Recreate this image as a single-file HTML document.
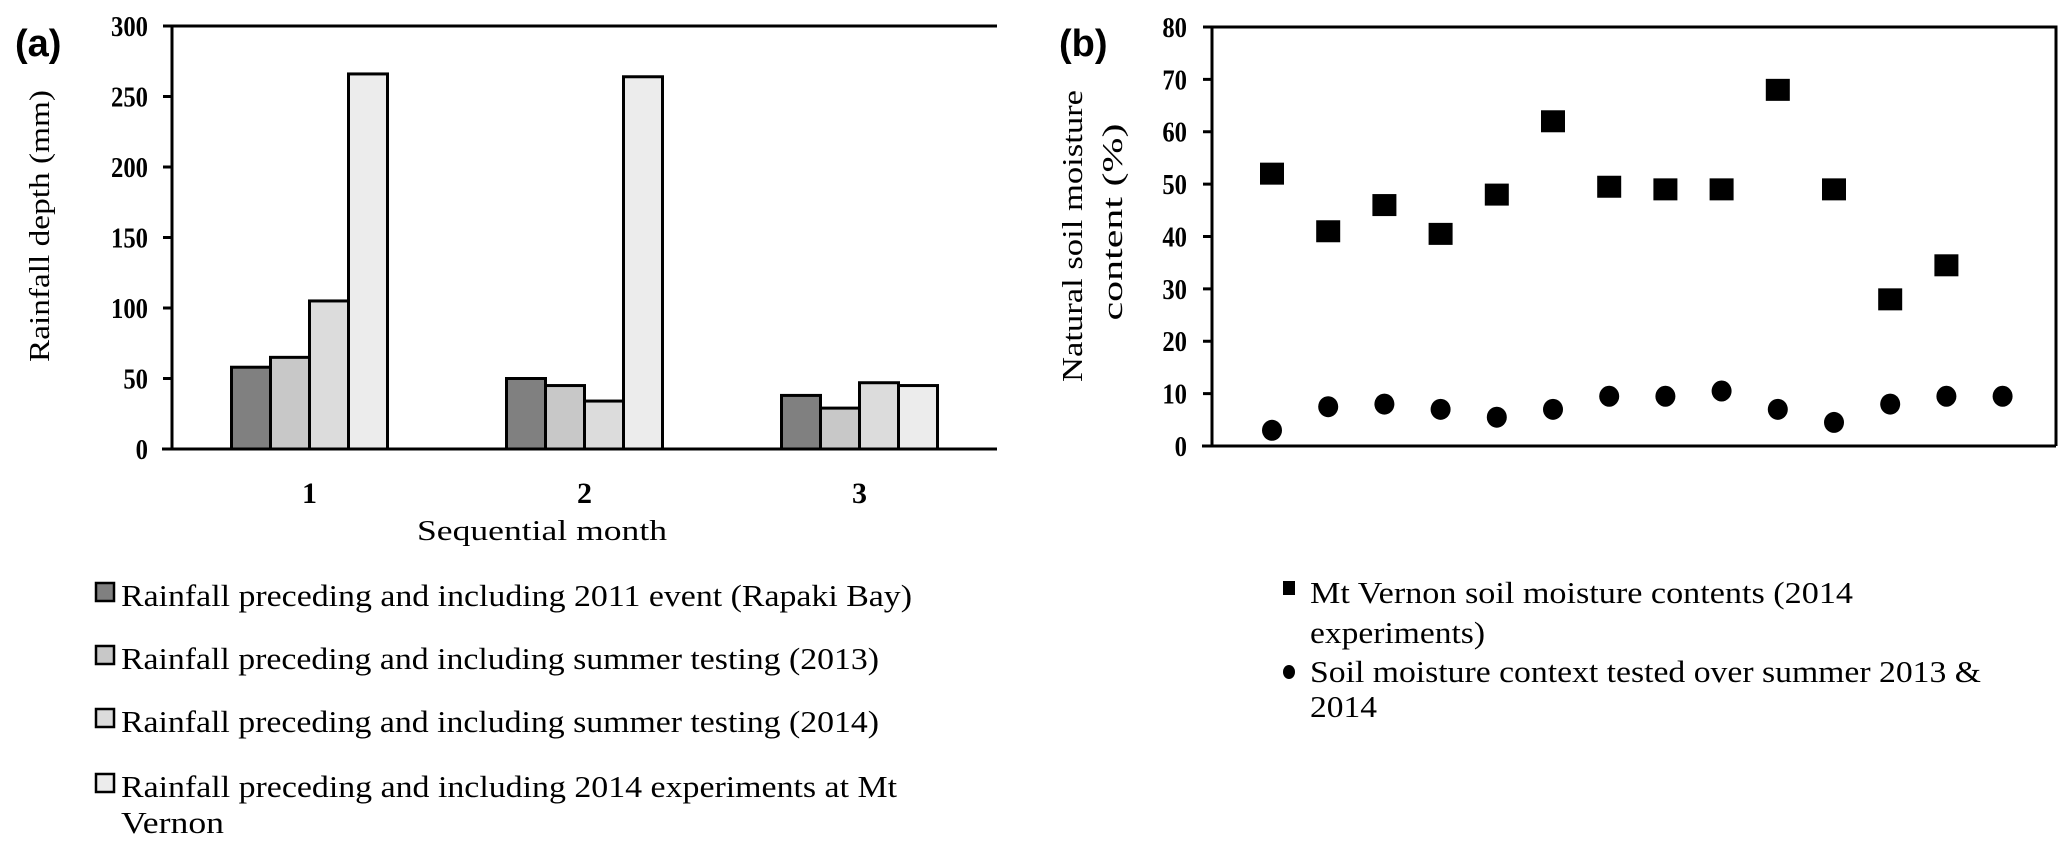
<!DOCTYPE html>
<html><head><meta charset="utf-8"><style>
html,body{margin:0;padding:0;background:#fff;}
svg{display:block;}
text{font-family:"Liberation Serif",serif;fill:#000;}
</style></head><body>
<svg id="fig" width="2067" height="859" viewBox="0 0 2067 859" xmlns="http://www.w3.org/2000/svg">
<g id="pa"></g>
<g id="pb"></g>
</svg>
<script>
// Panel (a) data
const months = ["1","2","3"];
const rain2011 = [58, 50, 38];
const rain2013 = [65, 45, 29];
const rain2014 = [105, 34, 47];
const rainMtVernon = [266, 264, 45];
const aTicks = [0,50,100,150,200,250,300];
// Panel (b) data
const sampleIdx = [1,2,3,4,5,6,7,8,9,10,11,12,13,14];
const mtVernonMoisture = [52,41,46,40.5,48,62,49.5,49,49,68,49,28,34.5];
const summerMoisture = [3,7.5,8,7,5.5,7,9.5,9.5,10.5,7,4.5,8,9.5,9.5];
const bTicks = [0,10,20,30,40,50,60,70,80];

const NS="http://www.w3.org/2000/svg";
function mk(parent, tag, attrs, txt){
  const e=document.createElementNS(NS,tag);
  for(const k in attrs) e.setAttribute(k,attrs[k]);
  if(txt!==undefined) e.textContent=txt;
  parent.appendChild(e); return e;
}
// ---- Panel A ----
const pa=document.getElementById('pa');
const aL=172,aR=997,aT=26,aB=449;
const ay=v=>aB-(v/300)*(aB-aT);
const catW=(aR-aL)/months.length;
const barW=39;
const series=[rain2011,rain2013,rain2014,rainMtVernon];
const fills=["#808080","#c8c8c8","#dcdcdc","#ececec"];
const sNames=["bar-2011","bar-2013","bar-2014","bar-mt-vernon"];
series.forEach((s,si)=>{
  s.forEach((v,ci)=>{
    const cx=aL+catW*(ci+0.5);
    const x=cx-2*barW+si*barW;
    const r=mk(pa,'rect',{x:x,y:ay(v),width:barW,height:aB-ay(v),fill:fills[si],stroke:"#000","stroke-width":3});
    
    
  });
});
const aAxis=mk(pa,'path',{d:`M${aL} ${aT}H${aR}M${aL} ${aT}V${aB}M${aL-10} ${aB}H${aR}`,stroke:"#000","stroke-width":3,fill:"none"});


aTicks.forEach(t=>{
  const tk=mk(pa,'line',{x1:aL-9,x2:aL,y1:ay(t),y2:ay(t),stroke:"#000","stroke-width":3});
  
  
  const tl=mk(pa,'text',{x:148,y:ay(t)+10,"text-anchor":"end","font-size":29,"font-weight":"bold",transform:`translate(148 0) scale(0.85 1) translate(-148 0)`},String(t));
  
  
});
months.forEach((m,i)=>{
  const cx=aL+catW*(i+0.5);
  const tl=mk(pa,'text',{x:cx,y:503,"text-anchor":"middle","font-size":30,"font-weight":"bold"},m);
  
  
});
</script>
<script>
// static labels panel a
(function(){
const pa=document.getElementById('pa');
function mk(parent, tag, attrs, txt){const e=document.createElementNS("http://www.w3.org/2000/svg",tag);for(const k in attrs)e.setAttribute(k,attrs[k]);if(txt!==undefined)e.textContent=txt;parent.appendChild(e);return e;}
let e=mk(pa,'text',{x:15,y:56,"font-size":38,"font-weight":"bold",style:'font-family:"Liberation Sans",sans-serif'},"(a)");


e=mk(pa,'text',{x:0,y:0,"font-size":29,"text-anchor":"middle",textLength:272,lengthAdjust:"spacingAndGlyphs",transform:"translate(49 226) rotate(-90)"},"Rainfall depth (mm)");


e=mk(pa,'text',{x:542,y:540,"font-size":29,"text-anchor":"middle",textLength:250,lengthAdjust:"spacingAndGlyphs"},"Sequential month");


const leg=[["#808080","Rainfall preceding and including 2011 event (Rapaki Bay)",596,791],
["#c8c8c8","Rainfall preceding and including summer testing (2013)",659,758],
["#dcdcdc","Rainfall preceding and including summer testing (2014)",722,758],
["#ececec","Rainfall preceding and including 2014 experiments at Mt",787,776]];
leg.forEach((l,i)=>{
  const r=mk(pa,'rect',{x:96,y:l[2]-13,width:18,height:18,fill:l[0],stroke:"#000","stroke-width":2.5});
  
  
  const t=mk(pa,'text',{x:121,y:l[2]+10,"font-size":31,textLength:l[3],lengthAdjust:"spacingAndGlyphs"},l[1]);
  
  
});
e=mk(pa,'text',{x:121,y:833,"font-size":31,textLength:103,lengthAdjust:"spacingAndGlyphs"},"Vernon");


})();
</script>
<script>
// ---- Panel B ----
(function(){
const pb=document.getElementById('pb');
function mk(parent, tag, attrs, txt){const e=document.createElementNS("http://www.w3.org/2000/svg",tag);for(const k in attrs)e.setAttribute(k,attrs[k]);if(txt!==undefined)e.textContent=txt;parent.appendChild(e);return e;}
const bL=1212,bR=2056,bT=27,bB=446;
const by=v=>bB-(v/80)*(bB-bT);
const bx=i=>1272+(i-1)*56.2;
let e=mk(pb,'path',{d:`M${bL} ${bT}H${bR}V${bB}M${bL} ${bT}V${bB}M${bL-10} ${bB}H${bR}`,stroke:"#000","stroke-width":3,fill:"none"});


bTicks.forEach(t=>{
  const tk=mk(pb,'line',{x1:bL-9,x2:bL,y1:by(t),y2:by(t),stroke:"#000","stroke-width":3});
  
  
  const tl=mk(pb,'text',{x:1187,y:by(t)+10,"text-anchor":"end","font-size":29,"font-weight":"bold",transform:"translate(1187 0) scale(0.85 1) translate(-1187 0)"},String(t));
  
  
});
mtVernonMoisture.forEach((v,i)=>{
  const r=mk(pb,'rect',{x:bx(sampleIdx[i])-12,y:by(v)-11,width:24,height:22,fill:"#000"});
  
  
});
summerMoisture.forEach((v,i)=>{
  const c=mk(pb,'ellipse',{cx:bx(sampleIdx[i]),cy:by(v),rx:10,ry:10.5,fill:"#000"});
  
  
});
e=mk(pb,'text',{x:1059,y:56,"font-size":38,"font-weight":"bold",style:'font-family:"Liberation Sans",sans-serif'},"(b)");


e=mk(pb,'text',{x:0,y:0,"font-size":29,"text-anchor":"middle",textLength:292,lengthAdjust:"spacingAndGlyphs",transform:"translate(1082 236) rotate(-90)"},"Natural soil moisture");


e=mk(pb,'text',{x:0,y:0,"font-size":29,"text-anchor":"middle",textLength:197,lengthAdjust:"spacingAndGlyphs",transform:"translate(1122 222) rotate(-90)"},"content (%)");


e=mk(pb,'rect',{x:1283,y:581,width:12,height:14,fill:"#000"});


e=mk(pb,'ellipse',{cx:1289,cy:672,rx:6,ry:7,fill:"#000"});


const lines=[["Mt Vernon soil moisture contents (2014",603,543],["experiments)",643,175],["Soil moisture context tested over summer 2013 &",682,671],["2014",717,67]];
lines.forEach(l=>{
  const t=mk(pb,'text',{x:1310,y:l[1],"font-size":31,textLength:l[2],lengthAdjust:"spacingAndGlyphs"},l[0]);
  
  
});
})();
</script>
</body></html>
